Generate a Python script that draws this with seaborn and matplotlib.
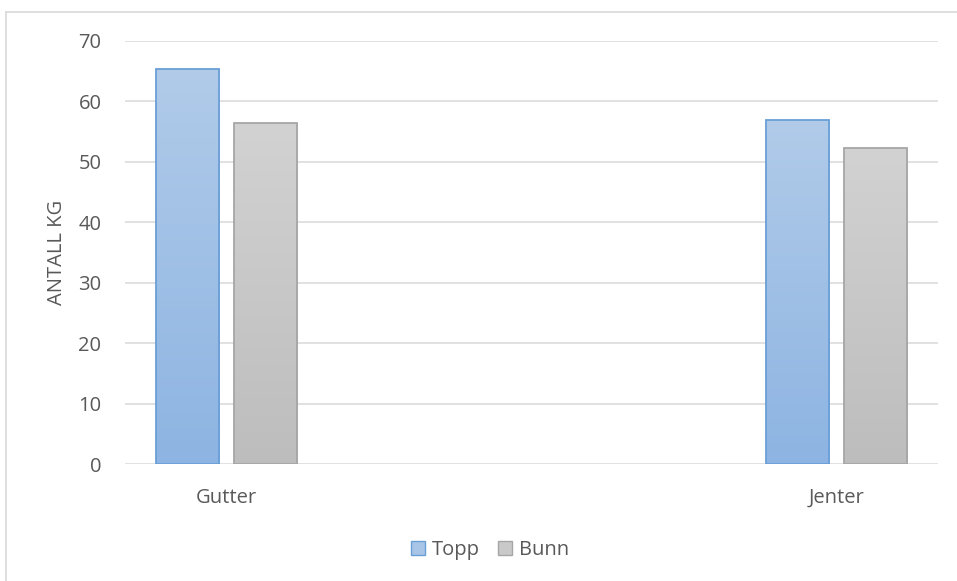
import numpy as np
import pandas as pd
import matplotlib
matplotlib.use("Agg")
import matplotlib.pyplot as plt
import seaborn as sns
from matplotlib.lines import Line2D
from matplotlib.patches import Patch
from matplotlib.colors import LinearSegmentedColormap

categories = ["Gutter", "Jenter"]
series = ["Topp", "Bunn"]
topp_values = [65.3, 56.9]
bunn_values = [56.5, 52.3]
yticks = [0, 10, 20, 30, 40, 50, 60, 70]

df = pd.DataFrame({
    "Kategori": categories * 2,
    "Serie": [series[0]] * len(categories) + [series[1]] * len(categories),
    "Verdi": topp_values + bunn_values,
})

sns.set_theme(style="white")
plt.rcParams["font.family"] = ["Open Sans", "DejaVu Sans"]

W, H = 957, 581
FS = 14.5
TXT = "#595959"
fig = plt.figure(figsize=(W / 100, H / 100), dpi=100)
ax = fig.add_axes([125 / W, 1 - 464 / H, (938 - 125) / W, (464 - 41) / H])

edge_colors = {"Topp": "#6a9fd6", "Bunn": "#a6a6a6"}
grad = {"Topp": ("#b1cbe9", "#8db4e2"), "Bunn": ("#d2d2d2", "#bdbdbd")}

sns.barplot(data=df, x="Kategori", y="Verdi", hue="Serie", order=categories,
            hue_order=series, palette={"Topp": "#a0c0e6", "Bunn": "#c8c8c8"},
            width=0.256, gap=0.19, ax=ax, legend=False, zorder=3)

# gradient fill per bar
for container, s in zip(ax.containers, series):
    cmap = LinearSegmentedColormap.from_list(s, [grad[s][1], grad[s][0]])
    for bar in container:
        x0, y0 = bar.get_x(), bar.get_y()
        w, h = bar.get_width(), bar.get_height()
        bar.set_facecolor("none")
        bar.set_edgecolor(edge_colors[s])
        bar.set_linewidth(1.3)
        bar.set_zorder(4)
        g = np.linspace(0, 1, 256).reshape(-1, 1)
        im = ax.imshow(g, cmap=cmap, origin="lower", aspect="auto",
                       extent=[x0, x0 + w, y0, y0 + h], zorder=3.5,
                       interpolation="bicubic")
        im.set_clip_path(bar)

ax.set_xlim(-1 / 6, 1 + 1 / 6)
ax.set_ylim(0, 70)
ax.set_yticks(yticks)
ax.set_yticklabels([str(v) for v in yticks])
for v in yticks:
    ax.axhline(v, color="#d9d9d9", lw=1.1, zorder=1)
for sp in ax.spines.values():
    sp.set_visible(False)
ax.tick_params(axis="y", length=0, pad=17, labelsize=FS, labelcolor=TXT)
ax.tick_params(axis="x", length=0, pad=17, labelsize=FS, labelcolor=TXT)
ax.set_xlabel("")
ax.set_ylabel("ANTALL KG", fontsize=FS, color=TXT)
ax.yaxis.set_label_coords((57 - 125) / 813, 0.5)
ax.yaxis.label.set_va("center")

handles = [Patch(facecolor="#a8c5e8", edgecolor=edge_colors["Topp"], label="Topp"),
           Patch(facecolor="#c9c9c9", edgecolor=edge_colors["Bunn"], label="Bunn")]
fig.legend(handles=handles, loc="center", bbox_to_anchor=(490 / W, 1 - 550 / H),
           ncol=2, frameon=False, fontsize=FS, labelcolor=TXT,
           handlelength=0.7, handleheight=0.7, handletextpad=0.35, columnspacing=0.9)

# chart area border (top & left visible)
fig.add_artist(Line2D([6 / W, 1], [1 - 12 / H, 1 - 12 / H], color="#d9d9d9", lw=1.2,
                      transform=fig.transFigure))
fig.add_artist(Line2D([6 / W, 6 / W], [0, 1 - 12 / H], color="#d9d9d9", lw=1.2,
                      transform=fig.transFigure))

fig.savefig("out.png", dpi=100)
